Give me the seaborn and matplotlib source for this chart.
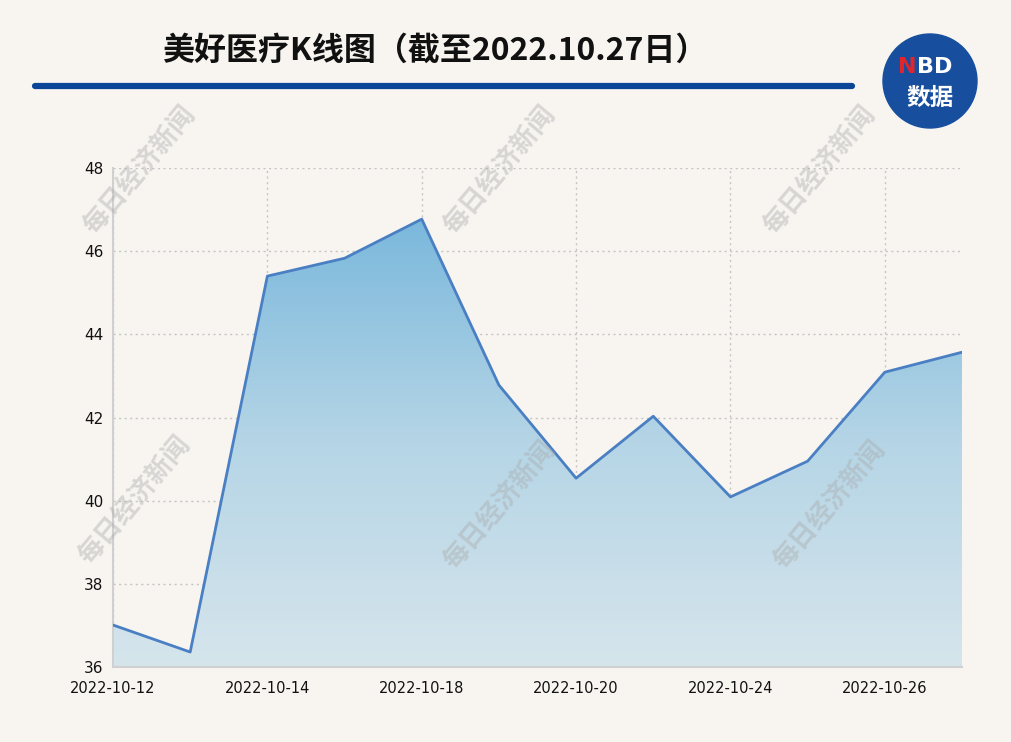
import numpy as np
import pandas as pd
import matplotlib
matplotlib.use("Agg")
import matplotlib.pyplot as plt
import seaborn as sns
from matplotlib.colors import LinearSegmentedColormap
from matplotlib.patches import Circle

dates = ["2022-10-12", "2022-10-13", "2022-10-14", "2022-10-17", "2022-10-18", "2022-10-19",
         "2022-10-20", "2022-10-21", "2022-10-24", "2022-10-25", "2022-10-26", "2022-10-27"]
prices = [37.01, 36.36, 45.40, 45.83, 46.77, 42.78, 40.54, 42.03, 40.09, 40.95, 43.09, 43.57]
y_ticks = [36, 38, 40, 42, 44, 46, 48]
title = "美好医疗K线图（截至2022.10.27日）"
watermark = "每日经济新闻"

sns.set_theme(style="white")
plt.rcParams['font.family'] = ['Noto Sans CJK SC', 'DejaVu Sans']

bg = "#f8f5f1"
fig = plt.figure(figsize=(10.12, 7.42), dpi=100, facecolor=bg)
ax = fig.add_axes([113/1012, 1 - 667/742, (962-113)/1012, (667-168)/742])
ax.set_facecolor(bg)

df = pd.DataFrame({"idx": np.arange(len(dates)), "date": dates, "price": prices})

# gradient fill
ymin, ymax = 36, 48
poly = ax.fill_between(df["idx"], df["price"], ymin, color="none", lw=0)
cmap = LinearSegmentedColormap.from_list("g", ["#d6e5ec", "#b5d5e6", "#7ab8dc"])
grad = np.linspace(0, 1, 256).reshape(-1, 1)
im = ax.imshow(grad, cmap=cmap, aspect="auto", origin="lower",
               extent=[0, len(dates) - 1, ymin, 46.8], zorder=1)
path = poly.get_paths()[0]
im.set_clip_path(path, transform=ax.transData)

sns.lineplot(data=df, x="idx", y="price", ax=ax, color="#4a7fc3", linewidth=2, zorder=3)

ax.set_xlim(0, len(dates) - 1)
ax.set_ylim(ymin, ymax)
ax.set_yticks(y_ticks)
ax.set_yticklabels([str(t) for t in y_ticks])
tick_idx = [0, 2, 4, 6, 8, 10]
ax.set_xticks(tick_idx)
ax.set_xticklabels([dates[i] for i in tick_idx])
ax.set_xlabel("")
ax.set_ylabel("")
ax.grid(True, color="#c4c4c4", linestyle=(0, (1.5, 2.5)), linewidth=1, zorder=0)
ax.set_axisbelow(True)
for s in ["top", "right"]:
    ax.spines[s].set_visible(False)
for s in ["left", "bottom"]:
    ax.spines[s].set_color("#d0d0d0")
    ax.spines[s].set_linewidth(1.5)
ax.tick_params(axis="y", length=0, labelsize=11, colors="#111111", pad=7)
ax.tick_params(axis="x", length=0, labelsize=10.5, colors="#111111", pad=10)
for lbl in ax.get_yticklabels():
    lbl.set_fontfamily(['DejaVu Sans'])
for lbl in ax.get_xticklabels():
    lbl.set_fontfamily(['DejaVu Sans'])

# title
fig.text(435/1012, 1 - 51/742, title, ha="center", va="center", fontsize=23,
         fontweight="bold", color="#111111")
fig.add_artist(plt.Line2D([35/1012, 852/1012], [1 - 86/742, 1 - 86/742],
                          color="#0a4597", linewidth=4.5, transform=fig.transFigure))

# logo
lax = fig.add_axes([880/1012, 1 - 131/742, 100/1012, 100/742])
lax.set_xlim(0, 100); lax.set_ylim(0, 100); lax.axis("off")
lax.set_aspect("equal")
lax.add_patch(Circle((50, 50), 47, color="#174f9e"))
lax.text(37, 64, "N", ha="right", va="center", color="#e0262b", fontsize=16, fontweight="bold",
         family=['DejaVu Sans'])
lax.text(37, 64, "BD", ha="left", va="center", color="white", fontsize=16, fontweight="bold",
         family=['DejaVu Sans'])
lax.text(50, 33, "数据", ha="center", va="center", color="white", fontsize=17, fontweight="bold")

# watermarks
for (wx, wy) in [(140, 170), (500, 170), (820, 170), (135, 500), (500, 505), (830, 505)]:
    fig.text(wx/1012, 1 - wy/742, watermark, ha="center", va="center", rotation=50,
             fontsize=19, fontweight="bold", color="#a8a8a8", alpha=0.4, zorder=5)

fig.savefig("out.png", dpi=100, facecolor=bg)
